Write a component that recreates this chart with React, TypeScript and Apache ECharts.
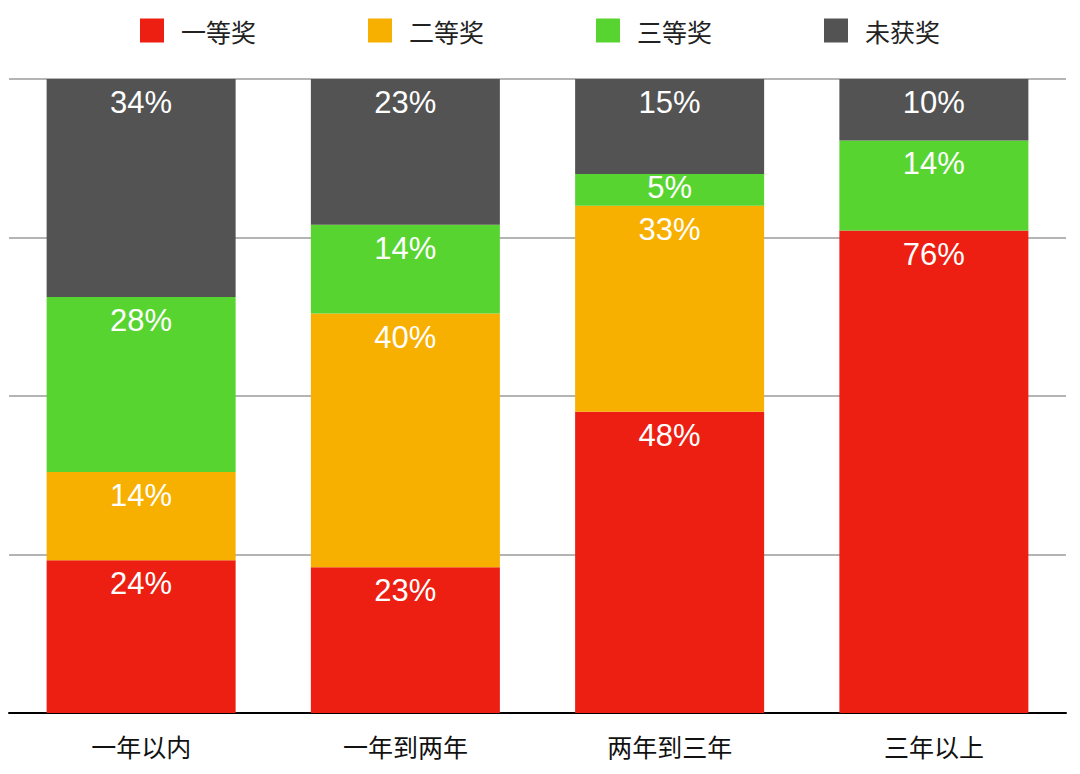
import React, { useEffect, useRef } from "react";
import * as echarts from "echarts";

const categories = ["一年以内", "一年到两年", "两年到三年", "三年以上"];
const seriesNames = ["一等奖", "二等奖", "三等奖", "未获奖"];
const firstPrize = [24.1, 23, 47.5, 76.1];
const secondPrize = [13.9, 40, 32.5, 0];
const thirdPrize = [27.6, 14, 5, 14.2];
const noPrize = [34.4, 23, 15, 9.7];
const colors = ["#EC1F12", "#F7AF00", "#58D431", "#535353"];

export default function App() {
  const ref = useRef<HTMLDivElement>(null);
  useEffect(() => {
    const chart = echarts.init(ref.current!, null, { renderer: "svg" });
    const all = [firstPrize, secondPrize, thirdPrize, noPrize];
    const series = all.map((vals, si) => ({
      name: seriesNames[si],
      type: "bar",
      stack: "total",
      barWidth: 189,
      itemStyle: { color: colors[si] },
      data: vals.map((v) => {
        if (v === 0) return { value: v, label: { show: false } };
        if (v < 8) return { value: v, label: { offset: [0, -10] } };
        return v;
      }),
      label: {
        show: true,
        position: "insideTop",
        distance: 8,
        color: "#ffffff",
        fontSize: 31,
        fontFamily: "Liberation Sans, Arial, sans-serif",
        formatter: (p: any) => Math.round(p.value) + "%",
      },
    }));
    chart.setOption({
      animation: false,
      legend: {
        top: 13,
        left: "center",
        itemWidth: 24,
        itemHeight: 24,
        itemGap: 112,
        icon: "rect",
        textStyle: {
          fontSize: 25,
          color: "#222",
          fontFamily: "Noto Sans CJK SC",
          padding: [0, 0, 0, 12],
        },
        data: seriesNames,
      },
      grid: { left: 9, right: 14, top: 79, bottom: 61 },
      xAxis: {
        type: "category",
        data: categories,
        axisLine: { lineStyle: { color: "#000", width: 2 } },
        axisTick: { show: false },
        axisLabel: {
          fontSize: 25,
          color: "#111",
          margin: 20,
          fontFamily: "Noto Sans CJK SC",
        },
      },
      yAxis: {
        type: "value",
        min: 0,
        max: 100,
        interval: 25,
        axisLabel: { show: false },
        axisLine: { show: false },
        axisTick: { show: false },
        splitLine: { lineStyle: { color: "#b4b4b4", width: 2 } },
      },
      series,
    });
    return () => chart.dispose();
  }, []);
  return <div ref={ref} style={{ width: 1080, height: 774, margin: -8 }} />;
}
